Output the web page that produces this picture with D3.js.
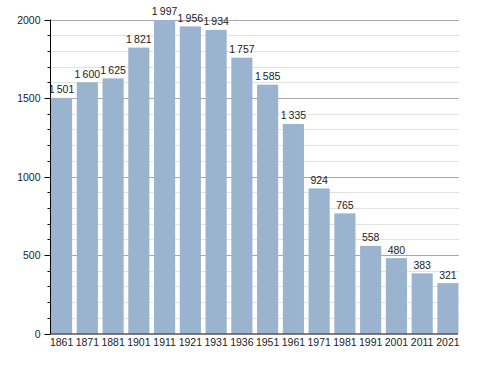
<!DOCTYPE html>
<html>
<head>
<meta charset="utf-8">
<script src="https://cdn.jsdelivr.net/npm/d3@7"></script>
<style>
  body { margin: 0; background: #fff; }
  text { font-family: "Liberation Sans", Arial, sans-serif; fill: #222; }
</style>
</head>
<body>
<div id="main"></div>
<script>
// census years and population
var years = ["1861", "1871", "1881", "1901", "1911", "1921", "1931", "1936",
             "1951", "1961", "1971", "1981", "1991", "2001", "2011", "2021"];
var population = [1501, 1600, 1625, 1821, 1997, 1956, 1934, 1757,
                  1585, 1335, 924, 765, 558, 480, 383, 321];
var majorTicks = [0, 500, 1000, 1500, 2000];
var minorTicks = d3.range(0, 2001, 100);

var w = 488, h = 373;
var plotLeft = 50.5, plotRight = 459, plotTop = 19.5, plotBottom = 333.5;

var svg = d3.select("#main")
    .append("svg")
    .attr("width", w)
    .attr("height", h);

var x = d3.scaleBand()
    .domain(years)
    .range([plotLeft, plotRight])
    .paddingInner(0.18)
    .paddingOuter(0.02);

var y = d3.scaleLinear()
    .domain([0, 2000])
    .range([plotBottom, plotTop]);

// gridlines
svg.append("g").selectAll("line")
    .data(minorTicks.filter(function(d) { return d % 500 != 0; }))
    .enter().append("line")
    .attr("x1", plotLeft).attr("x2", plotRight)
    .attr("y1", function(d) { return Math.round(y(d)) + 0.5; })
    .attr("y2", function(d) { return Math.round(y(d)) + 0.5; })
    .attr("stroke", "#e2e2e2");

svg.append("g").selectAll("line")
    .data(majorTicks.filter(function(d) { return d > 0; }))
    .enter().append("line")
    .attr("x1", plotLeft).attr("x2", plotRight)
    .attr("y1", function(d) { return Math.round(y(d)) + 0.5; })
    .attr("y2", function(d) { return Math.round(y(d)) + 0.5; })
    .attr("stroke", "#a8a8a8");

// bars
svg.append("g").selectAll("rect")
    .data(population)
    .enter().append("rect")
    .attr("x", function(d, i) { return x(years[i]); })
    .attr("y", function(d) { return y(d); })
    .attr("width", x.bandwidth())
    .attr("height", function(d) { return plotBottom - y(d); })
    .attr("fill", "#9ab3ce");

// value labels, thin space as thousands separator
var fmt = function(d) {
    var s = String(d);
    return s.length > 3 ? s.slice(0, s.length - 3) + "\u2009" + s.slice(-3) : s;
};
svg.append("g").selectAll("text")
    .data(population)
    .enter().append("text")
    .attr("x", function(d, i) { return x(years[i]) + x.bandwidth() / 2; })
    .attr("y", function(d) { return y(d) - 4.5; })
    .attr("text-anchor", "middle")
    .attr("font-size", "10.5px")
    .text(fmt);

// y axis
var yAxis = svg.append("g")
    .attr("transform", "translate(" + plotLeft + ",0)");
yAxis.append("line")
    .attr("x1", 0).attr("x2", 0)
    .attr("y1", plotTop).attr("y2", plotBottom + 0.5)
    .attr("stroke", "#000");
yAxis.selectAll(".minor")
    .data(minorTicks)
    .enter().append("line")
    .attr("class", "minor")
    .attr("x1", function(d) { return d % 500 == 0 ? -6 : -3; })
    .attr("x2", 0)
    .attr("y1", function(d) { return Math.round(y(d)) + 0.5; })
    .attr("y2", function(d) { return Math.round(y(d)) + 0.5; })
    .attr("stroke", "#000");
yAxis.selectAll("text")
    .data(majorTicks)
    .enter().append("text")
    .attr("x", -10)
    .attr("y", function(d) { return y(d) + 4; })
    .attr("text-anchor", "end")
    .attr("font-size", "10.5px")
    .text(function(d) { return d; });

// x axis
svg.append("line")
    .attr("x1", plotLeft).attr("x2", plotRight - 1)
    .attr("y1", plotBottom + 0.5).attr("y2", plotBottom + 0.5)
    .attr("stroke", "#000");
svg.append("g").selectAll("text")
    .data(years)
    .enter().append("text")
    .attr("x", function(d) { return x(d) + x.bandwidth() / 2; })
    .attr("y", plotBottom + 12.5)
    .attr("text-anchor", "middle")
    .attr("font-size", "10.5px")
    .text(function(d) { return d; });
</script>
</body>
</html>
